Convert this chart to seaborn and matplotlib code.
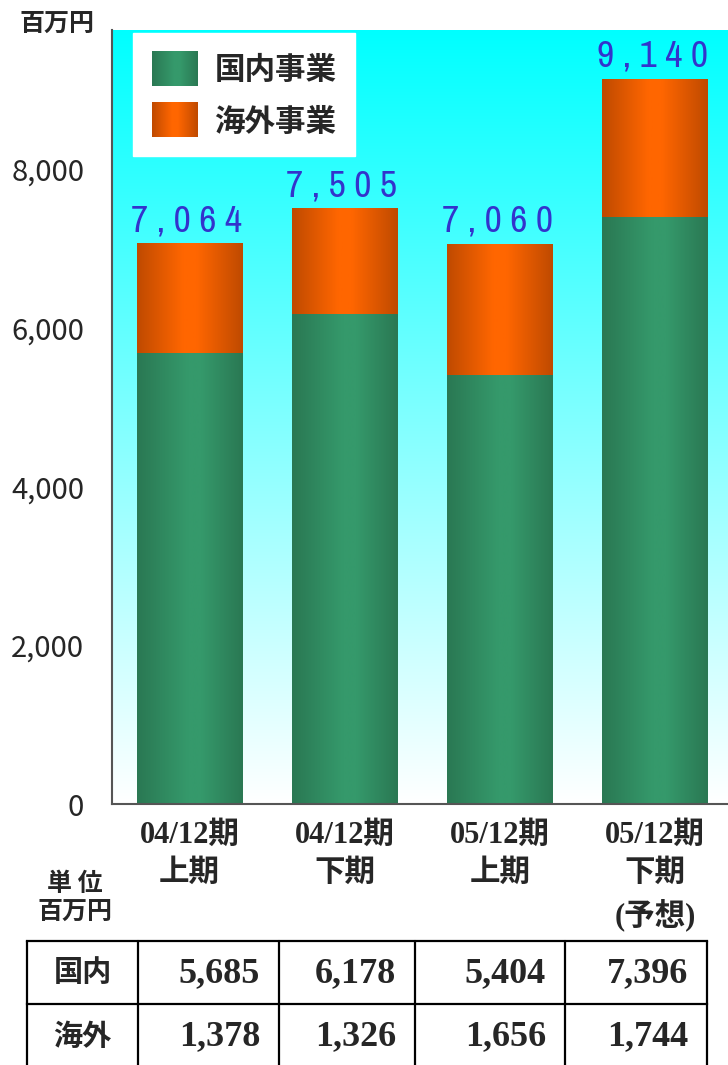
import numpy as np
import matplotlib
matplotlib.use("Agg")
import matplotlib.pyplot as plt
import seaborn as sns
from matplotlib import font_manager as fm
from matplotlib.legend_handler import HandlerBase
from matplotlib.image import BboxImage
from matplotlib.transforms import Bbox, TransformedBbox
from matplotlib.patches import Patch

# ---------------- data ----------------
categories = ["04/12期\n上期", "04/12期\n下期", "05/12期\n上期", "05/12期\n下期\n(予想)"]
domestic = [5685, 6178, 5404, 7396]
overseas = [1378, 1326, 1656, 1744]
totals = [7064, 7505, 7060, 9140]
series_names = ["国内事業", "海外事業"]
row_labels = ["国内", "海外"]
y_ticks = [0, 2000, 4000, 6000, 8000]
unit_top = "百万円"
unit_table = "単 位\n百万円"

sns.set_style("white")
plt.rcParams["font.family"] = ["Noto Sans CJK JP", "DejaVu Sans"]

CJK = "Noto Sans CJK JP"
SERIF_MIX = ["Liberation Serif", CJK]

# narrow font for total labels
names = {f.name for f in fm.fontManager.ttflist}
if "Archivo Narrow" in names:
    lab_kw = dict(family="Archivo Narrow", fontsize=27)
elif "Liberation Sans Narrow" in names:
    lab_kw = dict(family="Liberation Sans Narrow", fontsize=27)
else:
    lab_kw = dict(family="DejaVu Sans", fontsize=21)

W, H = 728, 1065
fig = plt.figure(figsize=(W / 100, H / 100), dpi=100)
ax = fig.add_axes([112 / W, 261 / H, 616 / W, 774 / H], zorder=2)

YMAX = 9760
XL = (-0.5, 3.47)


def hgrad(edge, center, n=200, peak=0.5):
    t = np.linspace(0, 1, n)
    f = np.where(t < peak, t / peak, (1 - t) / (1 - peak))
    f = np.clip(f * 1.15, 0, 1)
    e = np.array(matplotlib.colors.to_rgb(edge))
    c = np.array(matplotlib.colors.to_rgb(center))
    row = e[None, :] * (1 - f[:, None]) + c[None, :] * f[:, None]
    return row[None, :, :]


green_arr = hgrad("#2a7853", "#35996b", peak=0.55)
orange_arr = hgrad("#bf4a00", "#ff6600", peak=0.5)

# background gradient (cyan top -> white bottom)
v = np.linspace(1, 0, 256)[:, None]
bg = np.ones((256, 1, 3))
bg[:, 0, 0] = 1 - v[:, 0]
ax.imshow(bg, extent=[XL[0], XL[1], 0, YMAX], aspect="auto", zorder=0,
          interpolation="bilinear", origin="upper")

# stacked bars: totals first (overseas part visible), then domestic
n0 = len(ax.patches)
sns.barplot(x=categories, y=totals, color="#ff6600", width=0.68, ax=ax,
            saturation=1, zorder=2)
n1 = len(ax.patches)
sns.barplot(x=categories, y=domestic, color="#339966", width=0.68, ax=ax,
            saturation=1, zorder=3)
n2 = len(ax.patches)

for i, p in enumerate(ax.patches[n0:n2]):
    arr = orange_arr if i < (n1 - n0) else green_arr
    x, y0, w, h = p.get_x(), p.get_y(), p.get_width(), p.get_height()
    ax.imshow(arr, extent=[x, x + w, y0, y0 + h], aspect="auto",
              interpolation="bilinear", zorder=p.get_zorder() + 0.5)
    p.set_visible(False)

# total labels
for i, t in enumerate(totals):
    s = " ".join(f"{t:,}")
    ax.annotate(s, (i, t), xytext=(-2, 9), textcoords="offset points",
                ha="center", va="baseline", color="#3333cc", zorder=6, **lab_kw)

ax.set_xlim(*XL)
ax.set_ylim(0, YMAX)
ax.set_yticks(y_ticks)
ax.set_yticklabels([f"{t:,}" for t in y_ticks])
ax.tick_params(axis="y", length=0, pad=20, labelsize=21)
ax.tick_params(axis="x", length=0, pad=12)
for lbl in ax.get_xticklabels():
    lbl.set_fontfamily(SERIF_MIX)
    lbl.set_fontweight("bold")
    lbl.set_fontsize(22)
    lbl.set_linespacing(1.42)
ax.set_xlabel("")
ax.set_ylabel("")
for s in ["top", "right"]:
    ax.spines[s].set_visible(False)
for s in ["left", "bottom"]:
    ax.spines[s].set_color("#555555")
    ax.spines[s].set_linewidth(1.5)
    ax.spines[s].set_zorder(7)


# legend with gradient swatches
class GradHandler(HandlerBase):
    def __init__(self, arr):
        super().__init__()
        self.arr = arr

    def create_artists(self, legend, orig_handle, xdescent, ydescent,
                       width, height, fontsize, trans):
        bb = TransformedBbox(Bbox.from_bounds(-xdescent, -ydescent, width, height), trans)
        im = BboxImage(bb, interpolation="bilinear")
        im.set_data(self.arr)
        return [im]


h_dom = Patch(facecolor="#339966", label=series_names[0])
h_ovs = Patch(facecolor="#ff6600", label=series_names[1])
leg = ax.legend(handles=[h_dom, h_ovs], loc="upper left",
                bbox_to_anchor=(0.034, 0.996), frameon=True, fancybox=False,
                framealpha=1, edgecolor="white", facecolor="white",
                prop=dict(family=CJK, weight="bold", size=22),
                handlelength=1.5, handleheight=1.35, handletextpad=0.55,
                labelspacing=0.55, borderpad=0.62, borderaxespad=0,
                handler_map={h_dom: GradHandler(green_arr), h_ovs: GradHandler(orange_arr)})
leg.set_zorder(8)

# unit label at top-left
fig.text(57 / W, 1 - 24 / H, unit_top, ha="center", va="center",
         fontsize=18, fontweight="bold", family=CJK)

# ---------------- table ----------------
tax = fig.add_axes([0, 0, 1, 1], zorder=1)
tax.set_xlim(0, W)
tax.set_ylim(H, 0)
tax.axis("off")

tax.text(75, 898, unit_table, ha="center", va="center", fontsize=18,
         fontweight="bold", family=CJK, linespacing=1.2)

col_x = [27, 138, 279, 415, 565, 707]
row_y = [941, 1004, 1067]
for y in row_y:
    tax.plot([col_x[0], col_x[-1]], [y, y], color="black", lw=1.6, solid_capstyle="projecting")
for x in col_x:
    tax.plot([x, x], [row_y[0], row_y[-1]], color="black", lw=1.6)

table_rows = [domestic, overseas]
for r, (lab, vals) in enumerate(zip(row_labels, table_rows)):
    yc = (row_y[r] + row_y[r + 1]) / 2
    tax.text((col_x[0] + col_x[1]) / 2, yc, lab, ha="center", va="center",
             fontsize=21, fontweight="bold", family=CJK)
    for c, val in enumerate(vals):
        tax.text(col_x[c + 2] - 19, yc + 1, f"{val:,}", ha="right", va="center",
                 fontsize=26, fontweight="bold", family="Liberation Serif")

fig.savefig("out.png", dpi=100)
